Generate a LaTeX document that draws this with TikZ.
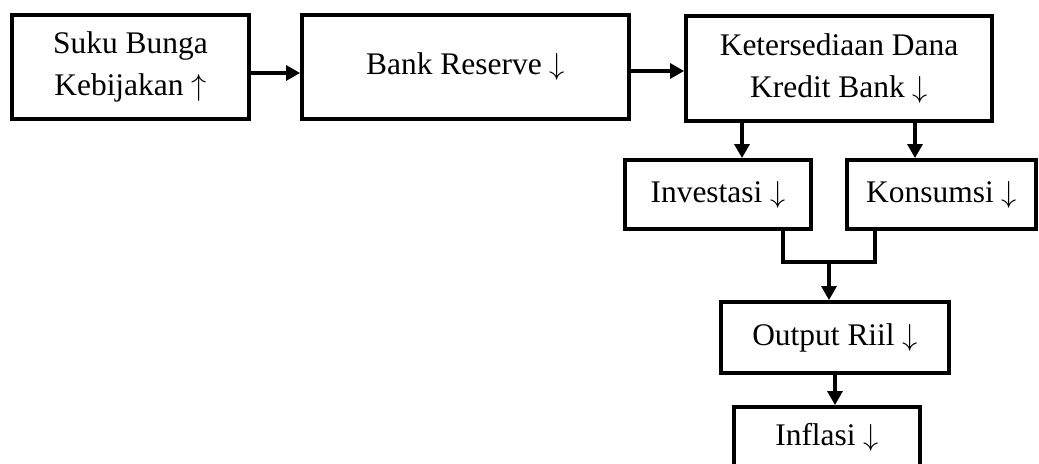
\documentclass[tikz,border=0pt]{standalone}
\usepackage{fontspec}
\setmainfont{Liberation Serif}
\usetikzlibrary{arrows.meta}
\begin{document}
\begin{tikzpicture}[font=\fontsize{17.9}{23.9}\selectfont, line join=miter,
	kotak/.style={draw,line width=2.2pt,align=center,inner sep=0pt},
	panah/.style={line width=1.8pt,-{Triangle[length=0.28cm,width=0.3cm]}}]
	\useasboundingbox (0,0) rectangle (20.78,-9.28);
	\node[kotak,minimum width=4.74cm,minimum height=2.08cm] (suku) at (2.61,-1.34) {Suku Bunga\\Kebijakan $\uparrow$};
	\node[kotak,minimum width=6.54cm,minimum height=2.08cm] (reserve) at (9.31,-1.34) {Bank Reserve $\downarrow$};
	\node[kotak,minimum width=6.12cm,minimum height=2.10cm] (kredit) at (16.78,-1.37) {Ketersediaan Dana\\Kredit Bank $\downarrow$};
	\node[kotak,minimum width=3.72cm,minimum height=1.38cm] (inv) at (14.36,-3.89) {Investasi $\downarrow$};
	\node[kotak,minimum width=3.78cm,minimum height=1.38cm] (kons) at (18.83,-3.89) {Konsumsi $\downarrow$};
	\node[kotak,minimum width=4.56cm,minimum height=1.42cm] (output) at (16.70,-6.75) {Output Riil $\downarrow$};
	\node[kotak,minimum width=3.72cm,minimum height=1.20cm] (inflasi) at (16.54,-8.74) {Inflasi $\downarrow$};
	\coordinate (gabung) at (16.58,-5.24);
	\draw[panah] ([yshift=-0.12cm]suku.east) -- ([yshift=-0.12cm]reserve.west);
	\draw[panah] ([yshift=-0.08cm]reserve.east) -- ([yshift=-0.08cm]reserve.east -| kredit.west);
	\draw[panah] ([xshift=0.48cm]inv.north |- kredit.south) -- ([xshift=0.48cm]inv.north);
	\draw[panah] ([xshift=-0.53cm]kons.north |- kredit.south) -- ([xshift=-0.53cm]kons.north);
	\draw[line width=1.8pt] ([xshift=1.3cm]inv.south) |- (gabung) -| ([xshift=-1.33cm]kons.south);
	\draw[panah] (gabung) -- (gabung |- output.north);
	\draw[panah] (output.south) -- (output.south |- inflasi.north);
\end{tikzpicture}
\end{document}
